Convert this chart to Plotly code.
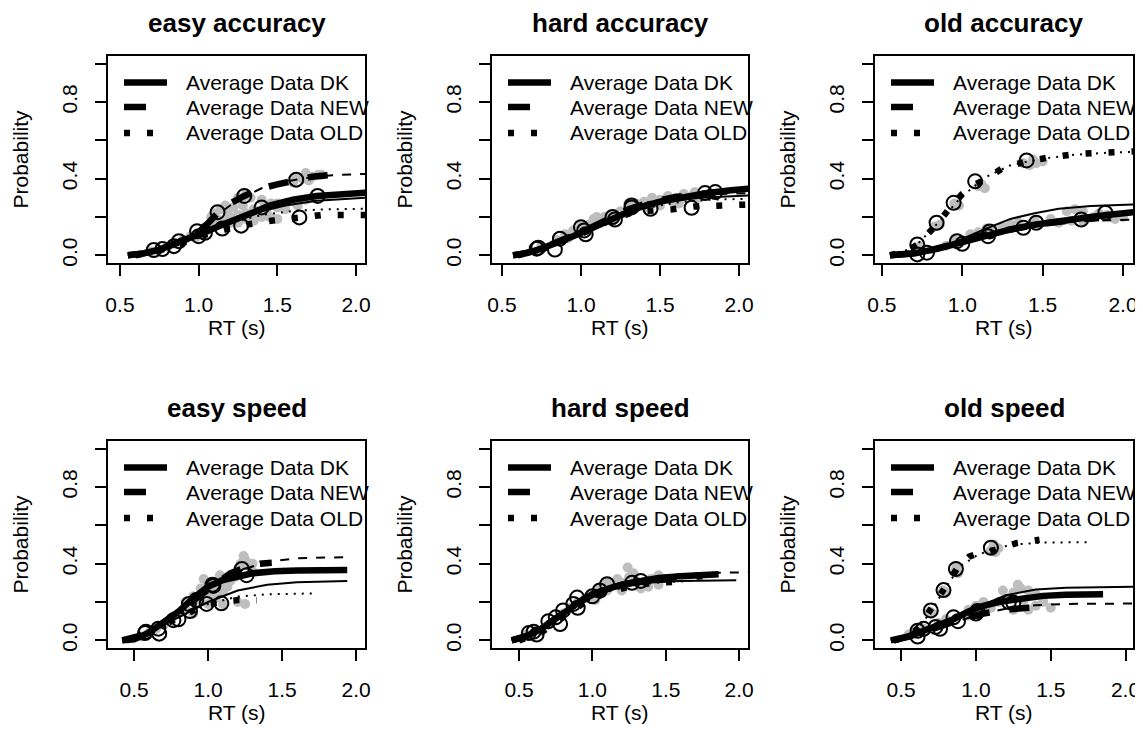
import plotly.graph_objects as go

# ---------------- data ----------------
# easy accuracy
ea_dk_x = [0.55, 0.65, 0.75, 0.85, 0.95, 1.05, 1.15, 1.25, 1.35, 1.45, 1.6, 1.75, 1.9, 2.06]
ea_dk_y = [0.0, 0.01, 0.03, 0.06, 0.09, 0.125, 0.16, 0.19, 0.225, 0.26, 0.29, 0.31, 0.322, 0.327]
ea_dk_mx = [0.55, 0.75, 0.95, 1.15, 1.35, 1.55, 1.75, 1.95, 2.06]
ea_dk_my = [0.0, 0.03, 0.09, 0.16, 0.22, 0.26, 0.285, 0.297, 0.30]
ea_dk_qx = [0.715, 0.875, 1.04, 1.40, 1.756]
ea_dk_qy = [0.028, 0.074, 0.118, 0.25, 0.31]
ea_new_x = [0.55, 0.65, 0.75, 0.85, 0.95, 1.05, 1.12, 1.2, 1.29, 1.4, 1.5, 1.62, 1.72, 1.84]
ea_new_y = [0.0, 0.01, 0.03, 0.06, 0.1, 0.16, 0.22, 0.27, 0.31, 0.35, 0.37, 0.395, 0.41, 0.42]
ea_new_mx = [0.55, 0.75, 0.95, 1.1, 1.25, 1.4, 1.55, 1.7, 1.85, 2.06]
ea_new_my = [0.0, 0.03, 0.1, 0.2, 0.29, 0.35, 0.385, 0.405, 0.418, 0.425]
ea_new_qx = [0.77, 0.99, 1.12, 1.29, 1.62]
ea_new_qy = [0.033, 0.126, 0.225, 0.31, 0.395]
ea_old_x = [0.6, 0.75, 0.9, 1.05, 1.17, 1.3, 1.46, 1.62, 1.78, 1.93, 2.06]
ea_old_y = [0.0, 0.025, 0.065, 0.11, 0.135, 0.16, 0.18, 0.195, 0.21, 0.21, 0.21]
ea_old_mx = [0.6, 0.8, 1.0, 1.2, 1.4, 1.6, 1.8, 2.06]
ea_old_my = [0.0, 0.04, 0.11, 0.17, 0.21, 0.232, 0.24, 0.243]
ea_old_qx = [0.843, 1.0, 1.15, 1.27, 1.64]
ea_old_qy = [0.048, 0.10, 0.14, 0.155, 0.198]
ea_gray_x = [1.6, 1.66, 1.72, 1.76, 1.62, 1.7, 1.25, 1.3, 1.33, 1.27, 1.1, 1.14, 1.08, 1.17,
             1.35, 1.42, 1.5, 1.55, 1.6, 1.68, 1.72, 1.5, 1.05, 1.1, 1.15, 1.2, 1.25, 1.3, 1.2,
             1.25, 1.35, 1.4, 1.45, 1.5, 1.3, 0.7, 0.75, 0.8, 0.85, 0.9, 0.95, 1.0,
             1.02, 1.07, 1.12, 1.18, 1.22, 1.38, 1.43, 1.55, 1.63, 1.78, 1.68, 0.98, 1.28, 1.4, 1.46]
ea_gray_y = [0.38, 0.40, 0.41, 0.42, 0.41, 0.39, 0.30, 0.32, 0.30, 0.29, 0.22, 0.24, 0.20, 0.26,
             0.24, 0.26, 0.27, 0.27, 0.28, 0.29, 0.30, 0.25, 0.13, 0.15, 0.18, 0.20, 0.21, 0.22, 0.17,
             0.17, 0.18, 0.20, 0.20, 0.19, 0.19, 0.02, 0.03, 0.045, 0.06, 0.08, 0.10, 0.11,
             0.12, 0.14, 0.19, 0.22, 0.25, 0.22, 0.23, 0.24, 0.26, 0.42, 0.43, 0.09, 0.26, 0.29, 0.27]

# hard accuracy
ha_dk_x = [0.57, 0.65, 0.75, 0.85, 0.95, 1.05, 1.15, 1.25, 1.35, 1.5, 1.65, 1.8, 1.95, 2.06]
ha_dk_y = [0.0, 0.01, 0.035, 0.065, 0.1, 0.135, 0.17, 0.21, 0.245, 0.28, 0.305, 0.325, 0.34, 0.348]
ha_dk_mx = [0.57, 0.75, 0.95, 1.15, 1.35, 1.55, 1.75, 1.95, 2.06]
ha_dk_my = [0.0, 0.035, 0.1, 0.175, 0.24, 0.28, 0.3, 0.31, 0.312]
ha_dk_qx = [0.72, 0.867, 1.03, 1.32, 1.785]
ha_dk_qy = [0.035, 0.087, 0.11, 0.26, 0.325]
ha_new_x = [0.57, 0.7, 0.85, 1.0, 1.15, 1.3, 1.45, 1.6, 1.75, 1.85]
ha_new_y = [0.0, 0.02, 0.07, 0.12, 0.18, 0.24, 0.28, 0.305, 0.32, 0.325]
ha_new_mx = [0.57, 0.8, 1.0, 1.2, 1.4, 1.6, 1.8, 2.06]
ha_new_my = [0.0, 0.05, 0.12, 0.2, 0.26, 0.3, 0.318, 0.325]
ha_new_qx = [0.73, 1.0, 1.215, 1.44, 1.85]
ha_new_qy = [0.04, 0.147, 0.187, 0.243, 0.33]
ha_old_x = [0.6, 0.75, 0.9, 1.05, 1.2, 1.35, 1.47, 1.58, 1.72, 1.88, 2.06]
ha_old_y = [0.0, 0.03, 0.08, 0.13, 0.19, 0.23, 0.235, 0.24, 0.255, 0.26, 0.265]
ha_old_mx = [0.6, 0.8, 1.0, 1.2, 1.4, 1.6, 1.8, 2.06]
ha_old_my = [0.0, 0.05, 0.12, 0.19, 0.245, 0.275, 0.29, 0.295]
ha_old_qx = [0.835, 1.02, 1.2, 1.32, 1.70]
ha_old_qy = [0.03, 0.13, 0.2, 0.25, 0.248]
ha_gray_x = [0.75, 0.85, 0.9, 0.95, 1.0, 1.05, 1.1, 1.15, 1.2, 1.25, 1.3, 1.35, 1.4, 1.45,
             1.5, 1.55, 1.6, 1.65, 1.7, 1.75, 1.8, 1.1, 1.3, 1.5, 1.62, 1.2, 0.92, 1.08, 1.28,
             1.42, 1.58, 1.72]
ha_gray_y = [0.05, 0.08, 0.11, 0.13, 0.15, 0.16, 0.17, 0.2, 0.21, 0.23, 0.24, 0.27, 0.28, 0.3,
             0.29, 0.31, 0.3, 0.32, 0.31, 0.3, 0.31, 0.2, 0.27, 0.26, 0.27, 0.18, 0.09, 0.19, 0.22,
             0.25, 0.28, 0.33]

# old accuracy
oa_dk_x = [0.55, 0.7, 0.85, 1.0, 1.15, 1.3, 1.45, 1.6, 1.75, 1.9, 2.07]
oa_dk_y = [0.0, 0.01, 0.035, 0.07, 0.105, 0.135, 0.16, 0.18, 0.195, 0.21, 0.225]
oa_dk_mx = [0.55, 0.7, 0.85, 1.0, 1.15, 1.3, 1.45, 1.6, 1.8, 2.07]
oa_dk_my = [0.0, 0.012, 0.04, 0.085, 0.14, 0.19, 0.22, 0.243, 0.257, 0.265]
oa_dk_qx = [0.78, 1.0, 1.17, 1.46, 1.89]
oa_dk_qy = [0.014, 0.06, 0.125, 0.17, 0.222]
oa_new_x = [0.55, 0.75, 0.95, 1.1, 1.3, 1.5, 1.7, 1.85]
oa_new_y = [0.0, 0.015, 0.06, 0.1, 0.135, 0.165, 0.185, 0.195]
oa_new_mx = [0.55, 0.8, 1.0, 1.2, 1.4, 1.6, 1.8, 2.07]
oa_new_my = [0.0, 0.02, 0.07, 0.115, 0.15, 0.17, 0.18, 0.187]
oa_new_qx = [0.72, 0.967, 1.16, 1.38, 1.74]
oa_new_qy = [0.005, 0.074, 0.10, 0.144, 0.187]
oa_old_x = [0.55, 0.65, 0.72, 0.8, 0.84, 0.915, 1.0, 1.08, 1.15, 1.25, 1.4, 1.55, 1.7, 1.85, 2.07]
oa_old_y = [0.0, 0.02, 0.055, 0.12, 0.16, 0.239, 0.32, 0.37, 0.40, 0.455, 0.49, 0.512, 0.528, 0.535, 0.542]
oa_old_mx = [0.55, 0.7, 0.85, 1.0, 1.15, 1.3, 1.5, 1.7, 1.9, 2.07]
oa_old_my = [0.0, 0.04, 0.17, 0.31, 0.41, 0.47, 0.505, 0.525, 0.535, 0.54]
oa_old_qx = [0.72, 0.84, 0.946, 1.08, 1.40]
oa_old_qy = [0.057, 0.17, 0.274, 0.386, 0.495]
oa_gray_x = [0.83, 0.86, 0.95, 0.98, 1.1, 1.12, 1.14, 1.38, 1.42, 1.46, 1.5, 1.44, 0.74,
             0.9, 0.95, 1.0, 1.05, 1.1, 1.15, 1.2, 1.3, 1.35, 1.45, 1.55, 1.65, 1.7, 1.75,
             1.68, 1.75, 1.82, 1.9, 1.95, 2.0, 1.25, 1.6, 1.85]
oa_gray_y = [0.15, 0.16, 0.27, 0.26, 0.36, 0.37, 0.35, 0.48, 0.47, 0.48, 0.49, 0.5, 0.05,
             0.05, 0.08, 0.08, 0.11, 0.12, 0.14, 0.13, 0.16, 0.17, 0.18, 0.19, 0.23, 0.24, 0.23,
             0.18, 0.18, 0.2, 0.21, 0.19, 0.2, 0.15, 0.17, 0.22]

# easy speed
es_dk_x = [0.42, 0.5, 0.6, 0.7, 0.8, 0.9, 1.0, 1.1, 1.2, 1.3, 1.45, 1.6, 1.94]
es_dk_y = [0.0, 0.005, 0.04, 0.09, 0.15, 0.22, 0.28, 0.315, 0.335, 0.35, 0.36, 0.365, 0.367]
es_dk_mx = [0.42, 0.6, 0.8, 1.0, 1.2, 1.4, 1.6, 1.94]
es_dk_my = [0.0, 0.04, 0.12, 0.2, 0.26, 0.29, 0.303, 0.31]
es_dk_qx = [0.574, 0.766, 0.92, 1.036, 1.26]
es_dk_qy = [0.038, 0.105, 0.21, 0.284, 0.34]
es_new_x = [0.42, 0.6, 0.8, 0.95, 1.05, 1.15, 1.25, 1.35, 1.43]
es_new_y = [0.0, 0.035, 0.15, 0.24, 0.3, 0.35, 0.38, 0.4, 0.405]
es_new_mx = [0.42, 0.6, 0.8, 1.0, 1.2, 1.4, 1.6, 1.97]
es_new_my = [0.0, 0.04, 0.15, 0.27, 0.36, 0.41, 0.428, 0.435]
es_new_qx = [0.58, 0.664, 0.87, 1.03, 1.228]
es_new_qy = [0.045, 0.061, 0.19, 0.29, 0.372]
es_old_x = [0.45, 0.6, 0.75, 0.9, 0.99, 1.1, 1.2, 1.33]
es_old_y = [0.0, 0.04, 0.1, 0.16, 0.188, 0.2, 0.21, 0.209]
es_old_mx = [0.45, 0.6, 0.8, 1.0, 1.2, 1.4, 1.72]
es_old_my = [0.0, 0.04, 0.12, 0.19, 0.228, 0.24, 0.245]
es_old_qx = [0.67, 0.8, 0.878, 0.99, 1.09]
es_old_qy = [0.035, 0.11, 0.153, 0.19, 0.193]
es_gray_x = [0.55, 0.6, 0.65, 0.7, 0.75, 0.8, 0.85, 0.9, 0.95, 1.0, 1.05, 1.1, 1.0, 0.95, 1.05,
             1.1, 1.15, 1.2, 1.22, 1.25, 1.28, 1.3, 1.18, 0.9, 1.2, 1.25, 1.0, 1.1, 0.85, 0.9,
             0.97, 1.08, 1.13, 1.24, 1.3]
es_gray_y = [0.02, 0.04, 0.06, 0.08, 0.1, 0.14, 0.16, 0.2, 0.22, 0.25, 0.28, 0.3, 0.3, 0.27, 0.22,
             0.25, 0.31, 0.37, 0.4, 0.42, 0.39, 0.36, 0.33, 0.14, 0.2, 0.19, 0.19, 0.19, 0.2, 0.23,
             0.32, 0.34, 0.28, 0.44, 0.4]

# hard speed
hs_dk_x = [0.45, 0.55, 0.65, 0.75, 0.85, 0.95, 1.05, 1.15, 1.3, 1.45, 1.6, 1.86]
hs_dk_y = [0.0, 0.02, 0.06, 0.11, 0.17, 0.22, 0.255, 0.28, 0.305, 0.325, 0.335, 0.345]
hs_dk_mx = [0.45, 0.6, 0.8, 1.0, 1.2, 1.4, 1.6, 1.98]
hs_dk_my = [0.0, 0.04, 0.14, 0.23, 0.28, 0.302, 0.31, 0.314]
hs_dk_qx = [0.567, 0.70, 0.80, 0.896, 1.10]
hs_dk_qy = [0.038, 0.1, 0.156, 0.223, 0.293]
hs_new_x = [0.45, 0.6, 0.8, 1.0, 1.2, 1.4, 1.6, 1.75]
hs_new_y = [0.0, 0.035, 0.14, 0.24, 0.29, 0.32, 0.33, 0.335]
hs_new_mx = [0.45, 0.6, 0.8, 1.0, 1.2, 1.4, 1.6, 1.8, 2.06]
hs_new_my = [0.0, 0.035, 0.14, 0.24, 0.3, 0.33, 0.345, 0.352, 0.355]
hs_new_qx = [0.62, 0.78, 0.87, 1.0, 1.27]
hs_new_qy = [0.03, 0.085, 0.19, 0.23, 0.30]
hs_old_x = [0.5, 0.65, 0.8, 0.95, 1.1, 1.25, 1.4, 1.55]
hs_old_y = [0.0, 0.04, 0.12, 0.2, 0.25, 0.28, 0.3, 0.305]
hs_old_mx = [0.5, 0.7, 0.9, 1.1, 1.3, 1.5, 1.7]
hs_old_my = [0.0, 0.07, 0.18, 0.255, 0.29, 0.305, 0.31]
hs_old_qx = [0.6, 0.75, 0.9, 1.05, 1.33]
hs_old_qy = [0.045, 0.12, 0.17, 0.26, 0.31]
hs_gray_x = [0.55, 0.62, 0.7, 0.8, 0.9, 0.95, 1.0, 1.05, 1.1, 1.15, 1.2, 1.25, 1.28, 1.3,
             1.35, 1.4, 1.45, 1.38, 1.45, 1.2, 1.1, 1.33, 0.85, 1.02, 1.17, 1.24]
hs_gray_y = [0.03, 0.05, 0.08, 0.14, 0.2, 0.22, 0.24, 0.27, 0.26, 0.29, 0.3, 0.33, 0.35, 0.31,
             0.3, 0.32, 0.34, 0.28, 0.29, 0.26, 0.3, 0.27, 0.17, 0.21, 0.32, 0.38]

# old speed
os_dk_x = [0.43, 0.55, 0.65, 0.75, 0.85, 0.95, 1.05, 1.15, 1.3, 1.45, 1.6, 1.85]
os_dk_y = [0.0, 0.02, 0.05, 0.08, 0.11, 0.15, 0.18, 0.2, 0.22, 0.232, 0.238, 0.24]
os_dk_mx = [0.43, 0.6, 0.8, 1.0, 1.2, 1.4, 1.6, 2.06]
os_dk_my = [0.0, 0.04, 0.1, 0.17, 0.235, 0.265, 0.275, 0.28]
os_dk_qx = [0.61, 0.73, 0.85, 1.01, 1.25]
os_dk_qy = [0.02, 0.07, 0.12, 0.153, 0.196]
os_new_x = [0.45, 0.6, 0.75, 0.9, 1.05, 1.2, 1.35, 1.45]
os_new_y = [0.0, 0.03, 0.07, 0.11, 0.14, 0.16, 0.17, 0.175]
os_new_mx = [0.45, 0.6, 0.8, 1.0, 1.2, 1.4, 1.6, 2.06]
os_new_my = [0.0, 0.03, 0.08, 0.13, 0.165, 0.183, 0.19, 0.192]
os_new_qx = [0.65, 0.76, 0.88, 1.0, 1.22]
os_new_qy = [0.06, 0.06, 0.1, 0.14, 0.2]
os_old_x = [0.45, 0.55, 0.62, 0.7, 0.78, 0.87, 0.955, 1.04, 1.12, 1.27, 1.425]
os_old_y = [0.0, 0.02, 0.07, 0.16, 0.26, 0.37, 0.437, 0.46, 0.47, 0.507, 0.525]
os_old_mx = [0.45, 0.6, 0.7, 0.8, 0.9, 1.0, 1.1, 1.25, 1.45, 1.75]
os_old_my = [0.0, 0.05, 0.15, 0.28, 0.39, 0.44, 0.475, 0.5, 0.51, 0.512]
os_old_qx = [0.61, 0.698, 0.783, 0.866, 1.10]
os_old_qy = [0.05, 0.156, 0.262, 0.372, 0.483]
os_gray_x = [0.69, 0.71, 0.78, 0.8, 0.86, 0.88, 0.87, 1.1, 1.13, 1.15, 1.12, 0.55, 0.65, 0.75,
             0.8, 0.95, 1.0, 1.05, 1.1, 1.15, 1.2, 1.25, 1.3, 1.35, 1.4, 1.45, 1.5, 1.25, 1.35,
             1.4, 0.95, 1.05, 1.18, 1.28, 1.32]
os_gray_y = [0.15, 0.14, 0.26, 0.25, 0.36, 0.35, 0.38, 0.47, 0.46, 0.48, 0.5, 0.03, 0.06, 0.09,
             0.11, 0.16, 0.18, 0.15, 0.17, 0.2, 0.22, 0.25, 0.27, 0.26, 0.24, 0.2, 0.17, 0.16, 0.16,
             0.18, 0.13, 0.2, 0.26, 0.29, 0.21]

panel_titles = ["easy accuracy", "hard accuracy", "old accuracy",
                "easy speed", "hard speed", "old speed"]
legend_labels = ["Average Data DK", "Average Data NEW", "Average Data OLD"]
x_ticks = [0.5, 1.0, 1.5, 2.0]
x_tick_text = ["0.5", "1.0", "1.5", "2.0"]
y_ticks = [0.0, 0.2, 0.4, 0.6, 0.8, 1.0]
y_tick_text = ["0.0", "", "0.4", "", "0.8", ""]
x_label = "RT (s)"
y_label = "Probability"

# ---------------- assemble ----------------
panels = [
    dict(title=panel_titles[0], xr=[0.424, 2.057], gray=(ea_gray_x, ea_gray_y),
         resp=[(ea_dk_x, ea_dk_y, ea_dk_mx, ea_dk_my, ea_dk_qx, ea_dk_qy),
               (ea_new_x, ea_new_y, ea_new_mx, ea_new_my, ea_new_qx, ea_new_qy),
               (ea_old_x, ea_old_y, ea_old_mx, ea_old_my, ea_old_qx, ea_old_qy)]),
    dict(title=panel_titles[1], xr=[0.437, 2.057], gray=(ha_gray_x, ha_gray_y),
         resp=[(ha_dk_x, ha_dk_y, ha_dk_mx, ha_dk_my, ha_dk_qx, ha_dk_qy),
               (ha_new_x, ha_new_y, ha_new_mx, ha_new_my, ha_new_qx, ha_new_qy),
               (ha_old_x, ha_old_y, ha_old_mx, ha_old_my, ha_old_qx, ha_old_qy)]),
    dict(title=panel_titles[2], xr=[0.457, 2.062], gray=(oa_gray_x, oa_gray_y),
         resp=[(oa_dk_x, oa_dk_y, oa_dk_mx, oa_dk_my, oa_dk_qx, oa_dk_qy),
               (oa_new_x, oa_new_y, oa_new_mx, oa_new_my, oa_new_qx, oa_new_qy),
               (oa_old_x, oa_old_y, oa_old_mx, oa_old_my, oa_old_qx, oa_old_qy)]),
    dict(title=panel_titles[3], xr=[0.324, 2.06], gray=(es_gray_x, es_gray_y),
         resp=[(es_dk_x, es_dk_y, es_dk_mx, es_dk_my, es_dk_qx, es_dk_qy),
               (es_new_x, es_new_y, es_new_mx, es_new_my, es_new_qx, es_new_qy),
               (es_old_x, es_old_y, es_old_mx, es_old_my, es_old_qx, es_old_qy)]),
    dict(title=panel_titles[4], xr=[0.316, 2.06], gray=(hs_gray_x, hs_gray_y),
         resp=[(hs_dk_x, hs_dk_y, hs_dk_mx, hs_dk_my, hs_dk_qx, hs_dk_qy),
               (hs_new_x, hs_new_y, hs_new_mx, hs_new_my, hs_new_qx, hs_new_qy),
               (hs_old_x, hs_old_y, hs_old_mx, hs_old_my, hs_old_qx, hs_old_qy)]),
    dict(title=panel_titles[5], xr=[0.325, 2.05], gray=(os_gray_x, os_gray_y),
         resp=[(os_dk_x, os_dk_y, os_dk_mx, os_dk_my, os_dk_qx, os_dk_qy),
               (os_new_x, os_new_y, os_new_mx, os_new_my, os_new_qx, os_new_qy),
               (os_old_x, os_old_y, os_old_mx, os_old_my, os_old_qx, os_old_qy)]),
]

# the page body keeps its default 8px margin, so the figure is drawn 8px smaller
# and every screen position is shifted by that margin
OFF = 8
W, H = 1143 - OFF, 753 - OFF
COLS = [(108, 365), (492, 748), (875, 1133)]   # plot boxes in screen pixels
ROWS = [(56, 263), (441, 648)]
FONT = "Liberation Sans, Arial, Helvetica, sans-serif"
FS = 21
THICK = 6.5
THIN = 2
thick_dash = ["solid", "20px,20px", "6px,17px"]
thin_dash = ["solid", "9px,9px", "2px,6px"]
legend_dash = ["solid", "22px,40px", "6px,17px"]
LEG_ROWS = [26.5, 51, 77]


def px(xs):
    return (xs - OFF) / W


def py(ys):
    return 1 - (ys - OFF) / H


fig = go.Figure()
annotations = []
shapes = []
layout = dict(template="none", width=W, height=H, margin=dict(l=0, r=0, t=0, b=0, pad=0),
              paper_bgcolor="white", plot_bgcolor="white", showlegend=False,
              font=dict(family=FONT, size=FS, color="black"))

for i, p in enumerate(panels):
    n = i + 1
    sfx = "" if n == 1 else str(n)
    xa, ya = "x" + sfx, "y" + sfx
    c0, c1 = COLS[i % 3]
    r0, r1 = ROWS[i // 3]

    gx, gy = p["gray"]
    fig.add_trace(go.Scatter(x=gx, y=gy, mode="markers", xaxis=xa, yaxis=ya,
                             marker=dict(color="#BEBEBE", size=10), showlegend=False,
                             hoverinfo="skip"))
    for k, (dx, dy, mx, my, qx, qy) in enumerate(p["resp"]):
        fig.add_trace(go.Scatter(x=mx, y=my, mode="lines", xaxis=xa, yaxis=ya,
                                 line=dict(color="black", width=THIN, dash=thin_dash[k]),
                                 showlegend=False, hoverinfo="skip"))
    for k, (dx, dy, mx, my, qx, qy) in enumerate(p["resp"]):
        fig.add_trace(go.Scatter(x=dx, y=dy, mode="lines", xaxis=xa, yaxis=ya,
                                 name=legend_labels[k],
                                 line=dict(color="black", width=THICK, dash=thick_dash[k]),
                                 showlegend=False))
    for k, (dx, dy, mx, my, qx, qy) in enumerate(p["resp"]):
        fig.add_trace(go.Scatter(x=qx, y=qy, mode="markers", xaxis=xa, yaxis=ya,
                                 marker=dict(symbol="circle-open", color="black", size=14,
                                             line=dict(width=2)),
                                 showlegend=False, hoverinfo="skip"))

    axis_common = dict(showline=True, mirror=True, linecolor="black", linewidth=2,
                       ticks="outside", ticklen=11, tickwidth=2, tickcolor="black",
                       showgrid=False, zeroline=False, automargin=False,
                       tickfont=dict(family=FONT, size=FS, color="black"))
    layout["xaxis" + sfx] = dict(domain=[px(c0), px(c1)], range=p["xr"], anchor=ya,
                                 tickvals=x_ticks, ticktext=x_tick_text,
                                 ticklabelstandoff=11, **axis_common)
    layout["yaxis" + sfx] = dict(domain=[py(r1), py(r0)], range=[-0.04, 1.04], anchor=xa,
                                 tickvals=y_ticks, ticktext=y_tick_text, tickangle=-90,
                                 ticklabelstandoff=10, **axis_common)

    # legend (R style: no box, keys inside the top-left of the panel)
    for k, lab in enumerate(legend_labels):
        yk = py(r0 + LEG_ROWS[k])
        shapes.append(dict(type="line", xref="paper", yref="paper",
                           x0=px(c0 + 16), x1=px(c0 + 59), y0=yk, y1=yk,
                           line=dict(color="black", width=THICK, dash=legend_dash[k])))
        annotations.append(dict(text=lab, x=px(c0 + 76), y=yk, xref="paper", yref="paper",
                                xanchor="left", yanchor="middle", showarrow=False,
                                font=dict(family=FONT, size=FS, color="black")))

    cx = px((c0 + c1) / 2)
    annotations.append(dict(text="<b>" + p["title"] + "</b>", x=cx, y=py(r0 - 33),
                            xref="paper", yref="paper", showarrow=False, borderpad=0,
                            xanchor="center", yanchor="middle",
                            font=dict(family=FONT, size=26, color="black")))
    annotations.append(dict(text=x_label, x=cx, y=py(r1 + 64), xref="paper", yref="paper",
                            xanchor="center", yanchor="middle", showarrow=False,
                            font=dict(family=FONT, size=FS, color="black")))
    annotations.append(dict(text=y_label, x=px(c0 - 88), y=py((r0 + r1) / 2),
                            xref="paper", yref="paper", showarrow=False, textangle=-90,
                            xanchor="center", yanchor="middle",
                            font=dict(family=FONT, size=FS, color="black")))

layout["annotations"] = annotations
layout["shapes"] = shapes
fig.update_layout(**layout)
fig.write_html("out.html")
